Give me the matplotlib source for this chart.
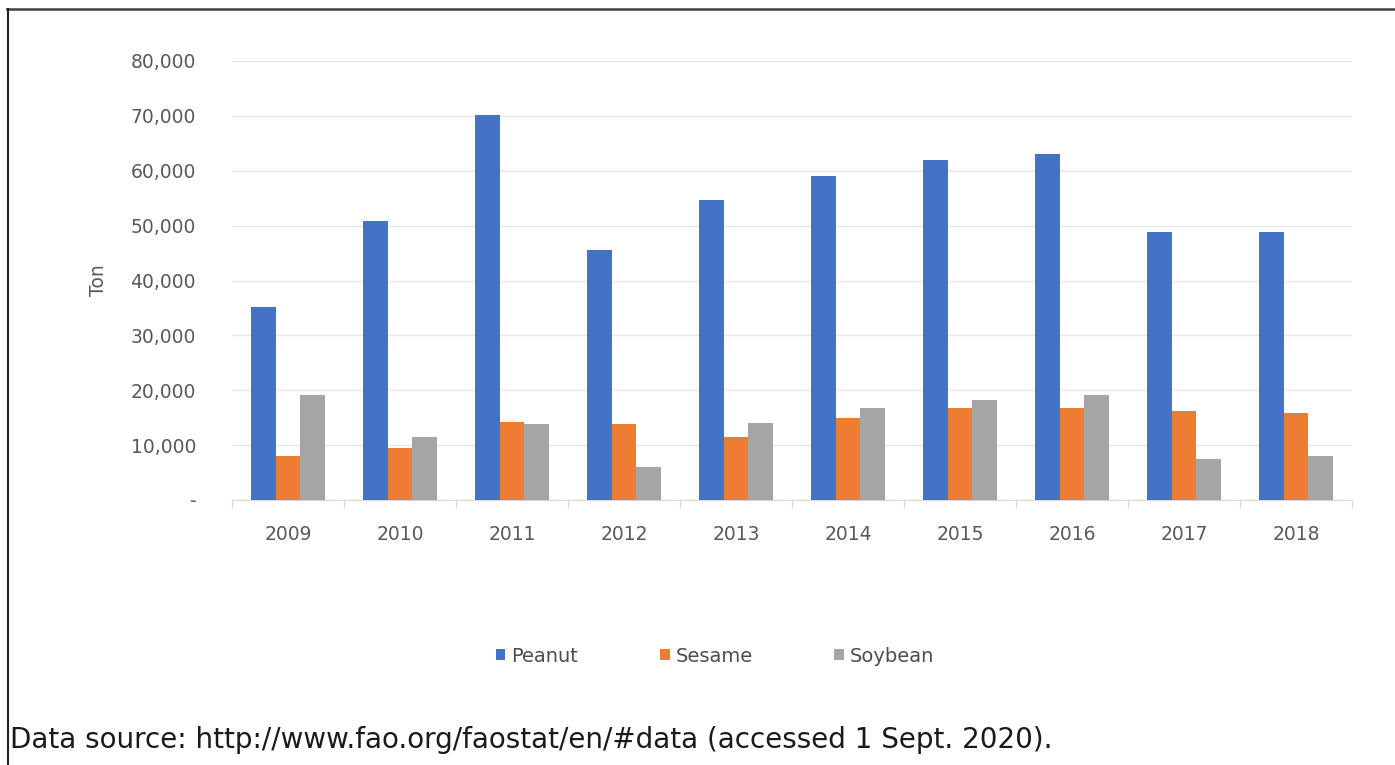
import matplotlib
matplotlib.use("Agg")
import matplotlib.pyplot as plt
from matplotlib.lines import Line2D
from matplotlib.ticker import FixedLocator, FuncFormatter
import numpy as np

years = ["2009", "2010", "2011", "2012", "2013", "2014", "2015", "2016", "2017", "2018"]
peanut = [35200, 50800, 70100, 45500, 54600, 59000, 61900, 63000, 48800, 48800]
sesame = [8050, 9500, 14300, 13800, 11500, 14900, 16800, 16800, 16300, 15800]
soybean = [19100, 11500, 13800, 6100, 14000, 16800, 18200, 19200, 7500, 8000]
series_names = ["Peanut", "Sesame", "Soybean"]
colors = ["#4472C4", "#ED7D31", "#A5A5A5"]
yticks = [0, 10000, 20000, 30000, 40000, 50000, 60000, 70000, 80000]

plt.rcParams['font.family'] = ['DejaVu Sans']

W, H = 1395, 765
fig = plt.figure(figsize=(W / 100, H / 100), dpi=100)
fig.patch.set_facecolor("white")

ax = fig.add_axes([232 / W, 1 - 500 / H, (1352 - 232) / W, (500 - 61) / H])
x = np.arange(len(years))
w = 0.222
for i, (vals, name, c) in enumerate(zip([peanut, sesame, soybean], series_names, colors)):
    ax.bar(x + (i - 1) * w, vals, width=w, color=c, label=name, zorder=3)

ax.set_xlim(-0.5, len(years) - 0.5)
ax.set_ylim(0, 80000)
ax.set_yticks(yticks)
ax.yaxis.set_major_formatter(FuncFormatter(lambda v, p: "-" if v == 0 else f"{int(v):,}"))
ax.set_xticks(x)
ax.set_xticklabels(years)
ax.xaxis.set_minor_locator(FixedLocator(np.arange(-0.5, len(years), 1.0)))
ax.tick_params(axis="x", which="major", length=0, pad=18, labelsize=13.5, labelcolor="#595959")
ax.tick_params(axis="x", which="minor", length=6, width=1, color="#d9d9d9")
ax.tick_params(axis="y", length=0, pad=26, labelsize=13.5, labelcolor="#595959")
ax.grid(axis="y", color="#e6e6e6", linewidth=1, zorder=0)
for s in ["top", "right", "left"]:
    ax.spines[s].set_visible(False)
ax.spines["bottom"].set_color("#d9d9d9")
ax.set_ylabel("Ton", fontsize=13.5, color="#595959", labelpad=16)

fig.legend(loc="center", bbox_to_anchor=(715 / W, 1 - 656 / H), ncol=3, frameon=False,
           fontsize=14, handlelength=0.5, handleheight=0.5, handletextpad=0.3,
           columnspacing=4.2, labelcolor="#4d4d4d")

fig.text(10 / W, 1 - 740 / H, "Data source: http://www.fao.org/faostat/en/#data (accessed 1 Sept. 2020).",
         fontsize=20, color="#1a1a1a", va="center", ha="left")

fig.add_artist(Line2D([7 / W, 1], [1 - 8.5 / H, 1 - 8.5 / H], transform=fig.transFigure,
                      color="#404040", linewidth=1.8))
fig.add_artist(Line2D([8 / W, 8 / W], [1 - 8.5 / H, 0], transform=fig.transFigure,
                      color="#202020", linewidth=1.5))

fig.savefig("out.png", dpi=100)
